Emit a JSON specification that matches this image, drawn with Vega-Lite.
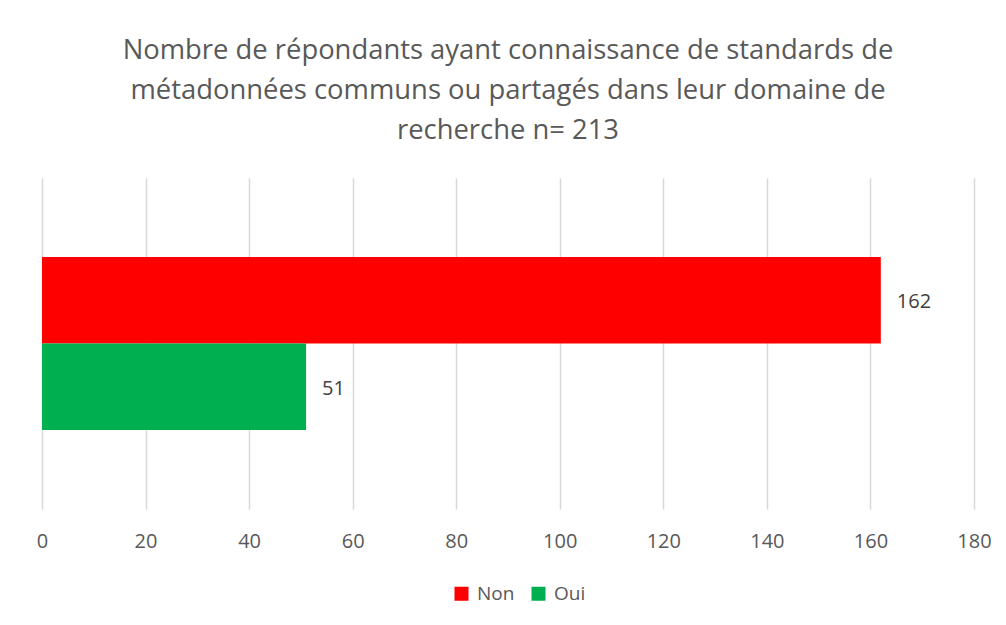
{
  "$schema": "https://vega.github.io/schema/vega-lite/v6.json",
  "autosize": {"type": "none"},
  "width": 932,
  "height": 331,
  "padding": {"left": 42, "top": 178, "right": 32, "bottom": 116},
  "background": "white",
  "title": {
    "text": ["Nombre de répondants ayant connaissance de standards de", "métadonnées communs ou partagés dans leur domaine de", "recherche n= 213"],
    "font": "Open Sans",
    "fontSize": 27.4,
    "fontWeight": "normal",
    "color": "#595959",
    "lineHeight": 40,
    "anchor": "middle",
    "offset": 34
  },
  "data": {"values": [
    {"reponse": "Non", "n": 162},
    {"reponse": "Oui", "n": 51}
  ]},
  "encoding": {
    "y": {"field": "reponse", "type": "nominal", "axis": null,
      "scale": {"paddingInner": 0, "paddingOuter": 0.913}},
    "x": {"field": "n", "type": "quantitative",
      "scale": {"domain": [0, 180], "nice": false},
      "axis": {"title": null, "values": [0,20,40,60,80,100,120,140,160,180], "domain": false, "ticks": false,
        "grid": true, "gridColor": "#d9d9d9", "gridWidth": 1.5, "labelFlush": false, "labelAlign": "center",
        "labelFont": "Open Sans", "labelFontSize": 20, "labelColor": "#595959", "labelPadding": 22}}
  },
  "layer": [
    {"mark": {"type": "bar"},
     "encoding": {
       "color": {"field": "reponse", "type": "nominal",
         "scale": {"domain": ["Non", "Oui"], "range": ["#FF0000", "#00B050"]},
         "legend": {"title": null, "orient": "none", "legendX": 410, "legendY": 406, "direction": "horizontal",
           "symbolType": "square", "symbolSize": 196, "symbolStrokeWidth": 0, "labelOffset": 6,
           "labelFont": "Open Sans", "labelFontSize": 19, "labelColor": "#595959",
           "columnPadding": 14}}
     }},
    {"mark": {"type": "text", "align": "left", "dx": 16, "dy": 2, "font": "Open Sans", "fontSize": 20, "color": "#404040"},
     "encoding": {"text": {"field": "n", "type": "quantitative"}}}
  ],
  "config": {"view": {"stroke": null}}
}
